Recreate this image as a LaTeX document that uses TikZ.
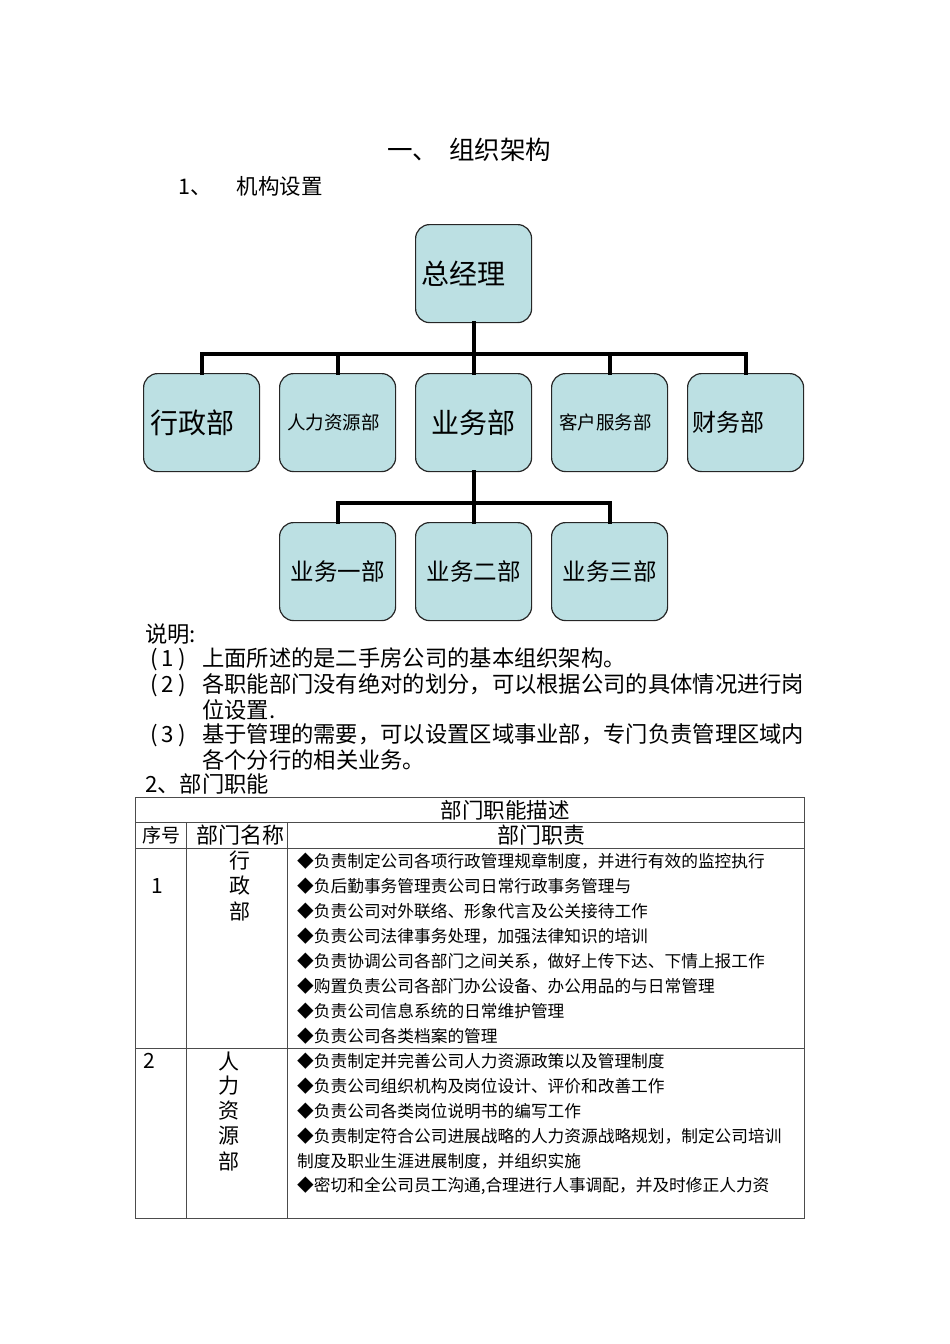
\documentclass[tikz,border=0pt]{standalone}
\usepackage{fontspec}
\setmainfont{Noto Sans CJK SC}
\begin{document}
\begin{tikzpicture}[x=1pt,y=-1pt,
  box/.style={draw=black!85,line width=1.2pt,fill=boxfill,rounded corners=14pt,
    minimum width=116pt,minimum height=98pt,inner sep=0pt,anchor=north west},
  bus/.style={line width=4pt,draw=black,line cap=rect},
  txt/.style={inner sep=0pt,anchor=west},
  grid/.style={draw=black!70,line width=1pt},
  ]
\definecolor{boxfill}{HTML}{BCE0E3}
\useasboundingbox (0,0) rectangle (950,1344);
% headings
\node[txt,font=\fontsize{25.5}{25.5}\selectfont] (t1) at (387,150) {一、\hspace{11pt}组织架构};
\node[txt,font=\fontsize{21.5}{21.5}\selectfont] (t2) at (178,186) {1、\hspace{25pt}机构设置};
% org chart
\node[box,font=\fontsize{28}{28}\selectfont] (gm) at (415,224) {总经理\hspace*{20pt}};
\node[box,font=\fontsize{28}{28}\selectfont] (xz) at (143,373) {行政部\hspace*{19pt}};
\node[box,font=\fontsize{18.5}{18.5}\selectfont] (rl) at (279,373) {人力资源部\hspace*{8pt}};
\node[box,font=\fontsize{28}{28}\selectfont] (yw) at (415,373) {业务部};
\node[box,font=\fontsize{18.5}{18.5}\selectfont] (kf) at (551,373) {客户服务部\hspace*{8pt}};
\node[box,font=\fontsize{24}{24}\selectfont] (cw) at (687,373) {财务部\hspace*{35pt}};
\node[box,font=\fontsize{23.5}{23.5}\selectfont] (y1) at (279,522) {业务一部};
\node[box,font=\fontsize{23.5}{23.5}\selectfont] (y2) at (415,522) {业务二部};
\node[box,font=\fontsize{23.5}{23.5}\selectfont] (y3) at (551,522) {业务三部};
\coordinate (busA) at (gm.south |- 0,354);
\coordinate (busB) at (yw.south |- 0,503);
\draw[bus] (gm.south) -- (busA);
\draw[bus] (xz.north) |- (busA) -| (cw.north);
\draw[bus] (rl.north) -- (rl.north |- busA);
\draw[bus] (kf.north) -- (kf.north |- busA);
\draw[bus] (yw.north) -- (busA);
\draw[bus] (yw.south) -- (busB);
\draw[bus] (y1.north) |- (busB) -| (y3.north);
\draw[bus] (y2.north) -- (busB);
% notes
\begin{scope}[every node/.style={txt,font=\fontsize{22.3}{22.3}\selectfont}]
\node (n0) at (145,634) {说明:};
\node (n1) at (148,659) {\makebox[54pt][l]{\hspace{2pt}(\hspace{4pt}1\hspace{4pt})}上面所述的是二手房公司的基本组织架构。};
\node (n2) at (148,685) {\makebox[54pt][l]{\hspace{2pt}(\hspace{4pt}2\hspace{4pt})}各职能部门没有绝对的划分，可以根据公司的具体情况进行岗};
\node (n2b) at (202,710) {位设置.};
\node (n3) at (148,735) {\makebox[54pt][l]{\hspace{2pt}(\hspace{4pt}3\hspace{4pt})}基于管理的需要，可以设置区域事业部，专门负责管理区域内};
\node (n3b) at (202,760) {各个分行的相关业务。};
\node (n4) at (145,784) {2、部门职能};
\end{scope}
% table
\draw[grid] (135,797) rectangle (804,1218);
\draw[grid] (135,822) -- (804,822);
\draw[grid] (135,848) -- (804,848);
\draw[grid] (135,1048) -- (804,1048);
\draw[grid] (186,822) -- (186,1218);
\draw[grid] (287,822) -- (287,1218);
\node[inner sep=0pt,font=\fontsize{21.5}{21.5}\selectfont] (h0) at (505,810) {部门职能描述};
\node[inner sep=0pt,font=\fontsize{19}{19}\selectfont] (h1) at (161,835) {序号};
\node[inner sep=0pt,font=\fontsize{22}{22}\selectfont] (h2) at (240,835) {部门名称};
\node[inner sep=0pt,font=\fontsize{22}{22}\selectfont] (h3) at (541,835) {部门职责};
\begin{scope}[every node/.style={inner sep=0pt,font=\fontsize{21}{21}\selectfont}]
\node (r1n) at (157,886) {1};
\node (r1a) at (240,861) {行};
\node (r1b) at (240,886) {政};
\node (r1c) at (240,911) {部};
\node (r2n) at (149,1061) {2};
\node (r2a) at (229,1061) {人};
\node (r2b) at (229,1086) {力};
\node (r2c) at (229,1111) {资};
\node (r2d) at (229,1136) {源};
\node (r2e) at (229,1161) {部};
\end{scope}
\begin{scope}[every node/.style={txt,font=\fontsize{16.7}{16.7}\selectfont}]
\node (b1) at (297,861) {◆负责制定公司各项行政管理规章制度，并进行有效的监控执行};
\node (b2) at (297,886) {◆负后勤事务管理责公司日常行政事务管理与};
\node (b3) at (297,911) {◆负责公司对外联络、形象代言及公关接待工作};
\node (b4) at (297,936) {◆负责公司法律事务处理，加强法律知识的培训};
\node (b5) at (297,961) {◆负责协调公司各部门之间关系，做好上传下达、下情上报工作};
\node (b6) at (297,986) {◆购置负责公司各部门办公设备、办公用品的与日常管理};
\node (b7) at (297,1011) {◆负责公司信息系统的日常维护管理};
\node (b8) at (297,1036) {◆负责公司各类档案的管理};
\node (c1) at (297,1061) {◆负责制定并完善公司人力资源政策以及管理制度};
\node (c2) at (297,1086) {◆负责公司组织机构及岗位设计、评价和改善工作};
\node (c3) at (297,1111) {◆负责公司各类岗位说明书的编写工作};
\node (c4) at (297,1136) {◆负责制定符合公司进展战略的人力资源战略规划，制定公司培训};
\node (c4b) at (297,1161) {制度及职业生涯进展制度，并组织实施};
\node (c5) at (297,1186) {◆密切和全公司员工沟通,合理进行人事调配，并及时修正人力资};
\end{scope}
\end{tikzpicture}
\end{document}
